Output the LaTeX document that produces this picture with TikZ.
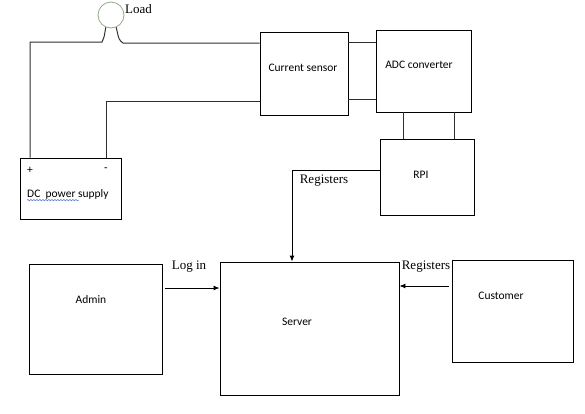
\documentclass[tikz,border=0pt]{standalone}
\usepackage{fontspec}
\setmainfont{Liberation Serif}
\newfontfamily\boxfont{Carlito}
\usepackage{tikz}
\usetikzlibrary{arrows.meta,positioning,decorations.pathmorphing}
\definecolor{loadring}{HTML}{93A884}
\definecolor{wiregray}{HTML}{2E2E2E}
\definecolor{spellblue}{HTML}{4F74C8}

\begin{document}
\begin{tikzpicture}[x=1pt, y=-1pt,
  box/.style={draw=black, line width=0.9pt, inner sep=0pt},
  boxtext/.style={font=\boxfont\fontsize{11.5}{13}\selectfont, inner sep=0pt},
  edgetext/.style={font=\fontsize{13}{15}\selectfont, inner sep=0pt},
  wire/.style={draw=wiregray, line width=1pt},
  arrow/.style={-{Latex[length=6pt,width=5pt]}, line width=0.9pt, draw=black}
]
\useasboundingbox (0,0) rectangle (585,413);

% boxes
\node[box, minimum width=88pt, minimum height=83pt] (sensor) at (304,73.5) {};
\node[box, minimum width=95pt, minimum height=82pt] (adc) at (424,71) {};
\node[box, minimum width=94pt, minimum height=76pt] (rpi) at (427,177) {};
\node[box, minimum width=101pt, minimum height=61pt] (dc) at (70.5,188.5) {};
\node[box, minimum width=133pt, minimum height=110pt] (admin) at (95.5,319) {};
\node[box, minimum width=179pt, minimum height=133pt] (server) at (309.5,328.5) {};
\node[box, minimum width=121pt, minimum height=102pt] (customer) at (512.5,311) {};
\node[draw=loadring, line width=0.8pt, circle, minimum size=26pt, inner sep=0pt] (load) at (111,15) {};

% texts
\node[boxtext] (sensortext) at (303,68) {Current sensor};
\node[boxtext] (adctext) at (419,65) {ADC converter};
\node[boxtext] (rpitext) at (421,175) {RPI};
\node[boxtext] (plus) at (30,170) {+};
\node[boxtext] (minus) at (106,170) {-};
\node[boxtext, anchor=west] (dctext) at (27,194) {DC\ \ power supply};
\node[boxtext] (admintext) at (91,300) {Admin};
\node[boxtext] (servertext) at (297,322) {Server};
\node[boxtext] (customertext) at (501,296) {Customer};
\node[edgetext, anchor=west] (loadtext) at (125,9) {Load};
\node[edgetext] (regtop) at (324,181) {Registers};
\node[edgetext] (login) at (189,267) {Log in};
\node[edgetext] (regright) at (426,267) {Registers};
\draw[spellblue, line width=0.5pt, decorate, decoration={snake, amplitude=0.7pt, segment length=3pt}]
  ([yshift=-1pt]dctext.south west) -- ++(52,0);

% wires
\draw[wire] (load.-113) .. controls (104,38) .. (102,42) -| (plus |- dc.north);
\draw[wire] (load.-67) .. controls (119,40) .. (123,43) -- (sensor.west |- 0,43);
\draw[wire] (sensor.west |- 0,101) -| (minus |- dc.north);
\draw[wire] (sensor.east |- 0,42) -- (adc.west |- 0,42);
\draw[wire] (sensor.east |- 0,99) -- (adc.west |- 0,99);
\draw[wire] (403,0 |- adc.south) -- (403,0 |- rpi.north);
\draw[wire] (454,0 |- adc.south) -- (454,0 |- rpi.north);

% arrows
\draw[arrow] (rpi.west |- 0,170) -| (292,0 |- server.north);
\draw[arrow] ([xshift=3pt]admin.east |- 0,288) -- (server.west |- 0,288);
\draw[arrow] ([xshift=-3pt]customer.west |- 0,286) -- (server.east |- 0,286);
\end{tikzpicture}
\end{document}
